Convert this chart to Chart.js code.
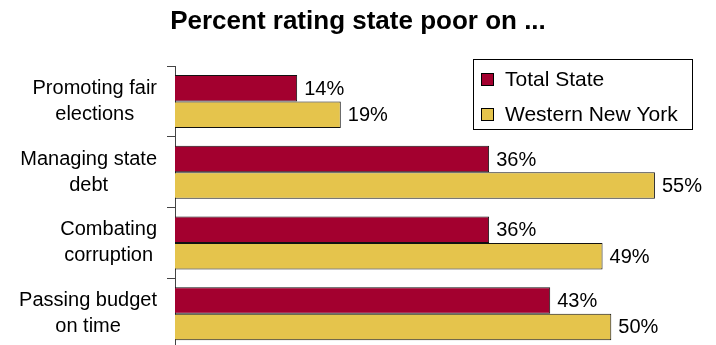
<!DOCTYPE html>
<html>
<head>
<meta charset="utf-8">
<script src="https://cdn.jsdelivr.net/npm/chart.js@4"></script>
<style>
  html, body { margin: 0; padding: 0; background: #fff; overflow: hidden; }
  #wrap { position: relative; width: 716px; height: 349px; }
</style>
</head>
<body>
<div id="wrap"><canvas id="chart-poor"></canvas></div>
<script>
// Percent rating state poor, Total State vs Western New York
const categorias = [
  ['Promoting fair', 'elections'],
  ['Managing state', 'debt'],
  ['Combating', 'corruption'],
  ['Passing budget', 'on time']
];
const totalState = [14, 36, 36, 43];
const westernNY = [19, 55, 49, 50];
const nomesSeries = ['Total State', 'Western New York'];
const coresSeries = ['#A3002F', '#E5C44C'];

const FONTE = "'Liberation Sans', Arial, sans-serif";

// rótulos das categorias: linhas centradas entre si, bloco alinhado à direita
const labelsCategoria = {
  id: 'labelsCategoria',
  afterDraw(chart) {
    const ctx = chart.ctx;
    const y = chart.scales.y;
    const direita = chart.chartArea.left - 18;
    ctx.save();
    ctx.font = '20px ' + FONTE;
    ctx.fillStyle = '#000';
    ctx.textAlign = 'center';
    ctx.textBaseline = 'middle';
    categorias.forEach((linhas, i) => {
      const cy = y.getPixelForTick(i);
      const w = Math.max(...linhas.map(l => ctx.measureText(l).width));
      const cx = direita - w / 2;
      const lh = 26;
      linhas.forEach((l, k) => {
        ctx.fillText(l, cx, cy + (k - (linhas.length - 1) / 2) * lh);
      });
    });
    ctx.restore();
  }
};

// valor em % no fim de cada barra
const valoresBarras = {
  id: 'valoresBarras',
  afterDatasetsDraw(chart) {
    const ctx = chart.ctx;
    ctx.save();
    ctx.font = '20px ' + FONTE;
    ctx.fillStyle = '#000';
    ctx.textAlign = 'left';
    ctx.textBaseline = 'middle';
    chart.data.datasets.forEach((ds, di) => {
      chart.getDatasetMeta(di).data.forEach((bar, i) => {
        ctx.fillText(ds.data[i] + '%', bar.x + 7, bar.y + 1);
      });
    });
    ctx.restore();
  }
};

// legenda com moldura dentro da área do gráfico
const legendaCaixa = {
  id: 'legendaCaixa',
  afterDraw(chart) {
    const ctx = chart.ctx;
    const bx = 473, by = 59, bw = 219, bh = 70;
    ctx.save();
    ctx.fillStyle = '#fff';
    ctx.fillRect(bx, by, bw, bh);
    ctx.strokeStyle = '#000';
    ctx.lineWidth = 1;
    ctx.strokeRect(bx + 0.5, by + 0.5, bw, bh);
    ctx.font = '21px ' + FONTE;
    ctx.textAlign = 'left';
    ctx.textBaseline = 'alphabetic';
    chart.data.datasets.forEach((ds, i) => {
      const my = 73 + i * 35;
      ctx.fillStyle = ds.backgroundColor;
      ctx.fillRect(481, my, 12, 12);
      ctx.strokeStyle = '#000';
      ctx.strokeRect(481.5, my + 0.5, 12, 12);
      ctx.fillStyle = '#000';
      ctx.fillText(ds.label, 505, 86 + i * 35);
    });
    ctx.restore();
  }
};

new Chart(document.getElementById('chart-poor'), {
  type: 'bar',
  data: {
    labels: categorias.map(c => c.join(' ')),
    datasets: [
      { label: nomesSeries[0], data: totalState, backgroundColor: coresSeries[0],
        borderColor: '#111', borderWidth: 1, categoryPercentage: 0.75, barPercentage: 1.0 },
      { label: nomesSeries[1], data: westernNY, backgroundColor: coresSeries[1],
        borderColor: '#111', borderWidth: 1, categoryPercentage: 0.75, barPercentage: 1.0 }
    ]
  },
  options: {
    indexAxis: 'y',
    responsive: true,
    maintainAspectRatio: false,
    animation: false,
    layout: { padding: 0 },
    plugins: {
      legend: { display: false },
      tooltip: { enabled: false },
      title: {
        display: true,
        text: 'Percent rating state poor on ...',
        color: '#000',
        font: { family: FONTE, size: 26, weight: 'bold' },
        padding: { top: 6, bottom: 29 }
      }
    },
    scales: {
      x: { display: false, min: 0, max: 62 },
      y: {
        offset: true,
        afterFit: s => { s.width = 175; },
        ticks: { display: false },
        grid: { offset: true, drawOnChartArea: false, drawTicks: true, tickLength: 8, color: '#444' },
        border: { display: true, color: '#444', width: 1 }
      }
    }
  },
  plugins: [labelsCategoria, valoresBarras, legendaCaixa]
});
</script>
</body>
</html>
